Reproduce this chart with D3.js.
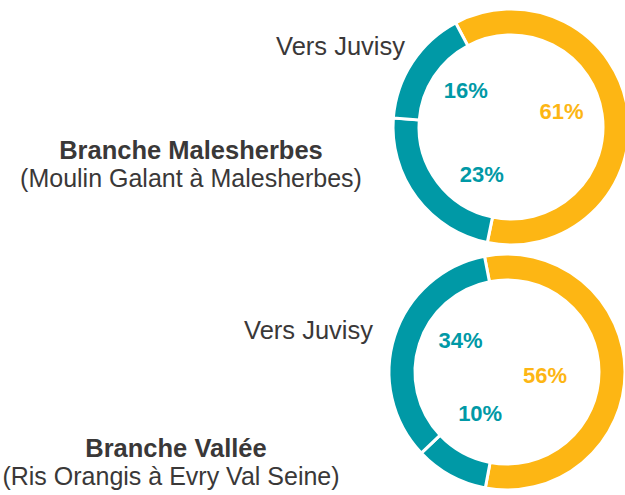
<!DOCTYPE html>
<html>
<head>
<meta charset="utf-8">
<script src="https://cdn.jsdelivr.net/npm/d3@7"></script>
<style>
	body { margin: 0; background: #fff; }
	svg { display: block; font-family: Arial, "Liberation Sans", sans-serif; }
</style>
</head>
<body>
<div id="chart"></div>
<script>
// Segment order is clockwise from the start angle
const segments = ['Interne', 'Autre', 'Vers Juvisy'];
const malesherbesValues = [61, 23, 16];
const valleeValues = [56, 10, 34];
const branchNames = ['Branche Malesherbes', 'Branche Vallée'];
const branchSubtitles = ['(Moulin Galant à Malesherbes)', '(Ris Orangis à Evry Val Seine)'];
const directionLabel = 'Vers Juvisy';

const width = 625;
const height = 495;

const colour = d3.scaleOrdinal()
	.domain(segments)
	.range(['#FDB614', '#0099A6', '#0099A6']);

const svg = d3.select('#chart').append('svg')
	.attr('width', width)
	.attr('height', height);

const outerRadius = 118;
const innerRadius = 92;

// layout of each donut; nudge moves the % labels off the centroid like the original
let donuts = [
	{ values: malesherbesValues, cx: 511, cy: 127, start: -28,
		name: branchNames[0], sub: branchSubtitles[0], nameX: 191, nameY: 159, subX: 191,
		dirX: 405, dirY: 55,
		nudge: [[-3, -8], [14, 15], [0, -7]] },
	{ values: valleeValues, cx: 507, cy: 372, start: -11,
		name: branchNames[1], sub: branchSubtitles[1], nameX: 176, nameY: 457, subX: 171,
		dirX: 373, dirY: 339,
		nudge: [[-16, 3], [-1, -6], [5, -15]] }
];

let arc = d3.arc().innerRadius(innerRadius).outerRadius(outerRadius);
let labelArc = d3.arc().innerRadius(54).outerRadius(54);

donuts.forEach(d => {
	let start = d.start * Math.PI / 180;
	let pie = d3.pie().sort(null).startAngle(start).endAngle(start + 2 * Math.PI);
	let data = pie(d.values);
	data.forEach((p, i) => p.key = segments[i]);

	let g = svg.append('g')
		.attr('transform', 'translate(' + [d.cx, d.cy] + ')');

	g.selectAll('path')
		.data(data)
		.enter().append('path')
			.attr('d', arc)
			.attr('fill', p => colour(p.key))
			.attr('stroke', '#fff')
			.attr('stroke-width', 3);

	g.selectAll('text')
		.data(data)
		.enter().append('text')
			.attr('transform', (p, i) => {
				let c = labelArc.centroid(p);
				return 'translate(' + [c[0] + d.nudge[i][0], c[1] + d.nudge[i][1]] + ')';
			})
			.attr('text-anchor', 'middle')
			.attr('dy', '0.36em')
			.attr('font-size', 22)
			.attr('font-weight', 'bold')
			.attr('fill', p => colour(p.key))
			.text(p => p.value + '%');

	// direction label next to the donut
	svg.append('text')
		.attr('x', d.dirX)
		.attr('y', d.dirY)
		.attr('text-anchor', 'end')
		.attr('font-size', 25.5)
		.attr('fill', '#3A3838')
		.text(directionLabel);

	svg.append('text')
		.attr('x', d.nameX)
		.attr('y', d.nameY)
		.attr('text-anchor', 'middle')
		.attr('font-size', 25.5)
		.attr('font-weight', 'bold')
		.attr('fill', '#3A3838')
		.text(d.name);

	svg.append('text')
		.attr('x', d.subX)
		.attr('y', d.nameY + 28)
		.attr('text-anchor', 'middle')
		.attr('font-size', 25)
		.attr('fill', '#3A3838')
		.text(d.sub);
});
</script>
</body>
</html>
